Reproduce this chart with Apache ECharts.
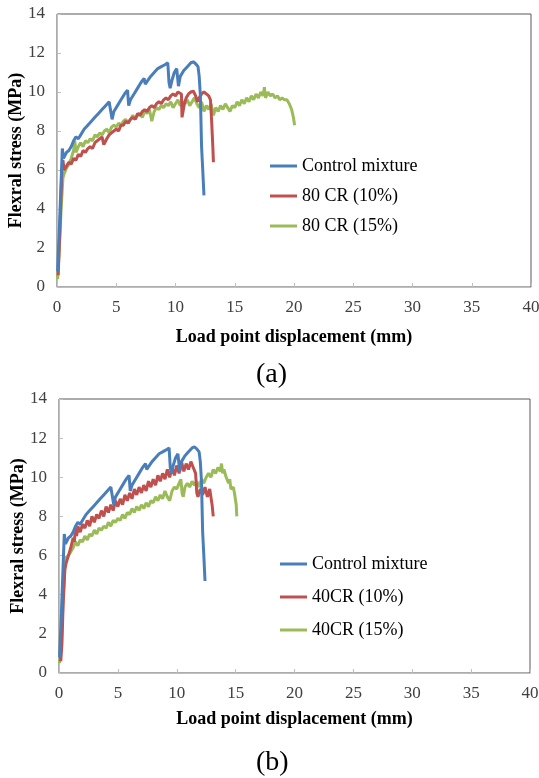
<!DOCTYPE html>
<html>
<head>
<meta charset="utf-8">
<script src="https://cdn.jsdelivr.net/npm/echarts@6.0.0/dist/echarts.min.js"></script>
<style>
  html, body { margin: 0; padding: 0; background: #fff; }
  #chart { width: 539px; height: 778px; }
</style>
</head>
<body>
<div id="chart"></div>
<script>
// displacement (mm), stress (MPa)
const namesA = ['Control mixture', '80 CR (10%)', '80 CR (15%)']
const namesB = ['Control mixture', '40CR (10%)', '40CR (15%)']
const colors = ['#4a7ebb', '#c0504d', '#9bbb59']

const control = [
  [0.05, 0.8], [0.2, 3.0], [0.35, 5.5], [0.45, 7.1], [0.55, 6.6], [0.65, 6.5], [0.8, 6.9], [1.0, 7.0],
  [1.2, 7.2], [1.4, 7.5], [1.6, 7.7], [1.8, 7.6], [2.0, 7.8], [2.3, 8.1], [2.6, 8.3], [2.9, 8.5],
  [3.2, 8.7], [3.5, 8.9], [3.8, 9.1], [4.1, 9.3], [4.4, 9.5], [4.55, 9.6], [4.65, 8.6], [4.8, 9.0],
  [5.1, 9.3], [5.4, 9.6], [5.7, 9.9], [5.95, 10.1], [6.05, 9.3], [6.2, 9.6], [6.5, 9.9], [6.8, 10.2],
  [7.1, 10.5], [7.35, 10.7], [7.45, 10.4], [7.6, 10.5], [7.9, 10.8], [8.2, 11.0], [8.5, 11.2],
  [8.8, 11.3], [9.1, 11.4], [9.35, 11.5], [9.45, 10.5], [9.55, 10.2], [9.7, 10.6], [9.9, 11.0],
  [10.1, 11.2], [10.25, 10.3], [10.4, 10.8], [10.7, 11.1], [11.0, 11.3], [11.3, 11.5], [11.5, 11.55],
  [11.7, 11.45], [11.9, 11.3], [12.0, 10.8], [12.1, 9.8], [12.15, 8.5], [12.2, 7.2], [12.3, 6.0], [12.4, 4.7]
]

const cr80p10 = [
  [0.1, 0.6], [0.25, 3.0], [0.4, 5.8], [0.5, 6.5], [0.6, 6.0], [0.8, 6.2], [1.0, 6.4], [1.2, 6.3],
  [1.4, 6.6], [1.6, 6.5], [1.8, 6.8], [2.0, 6.7], [2.2, 7.0], [2.4, 6.9], [2.6, 7.1], [2.8, 7.2],
  [3.0, 7.1], [3.2, 7.4], [3.4, 7.5], [3.6, 7.6], [3.8, 7.7], [3.95, 7.3], [4.05, 7.2], [4.2, 7.6],
  [4.4, 7.8], [4.6, 7.9], [4.8, 8.0], [5.0, 8.1], [5.2, 8.0], [5.4, 8.3], [5.6, 8.3], [5.8, 8.5],
  [6.0, 8.4], [6.2, 8.6], [6.4, 8.7], [6.6, 8.6], [6.8, 8.9], [7.0, 8.8], [7.2, 9.0], [7.4, 9.1],
  [7.6, 9.0], [7.8, 9.2], [8.0, 9.3], [8.2, 9.2], [8.4, 9.4], [8.6, 9.5], [8.8, 9.4], [9.0, 9.6],
  [9.2, 9.7], [9.4, 9.6], [9.6, 9.8], [9.8, 9.9], [10.0, 9.8], [10.2, 10.0], [10.35, 10.1], [10.5, 9.9],
  [10.55, 8.7], [10.65, 8.6], [10.75, 9.4], [10.9, 9.7], [11.1, 9.9], [11.3, 10.0], [11.5, 10.05],
  [11.7, 9.8], [11.85, 9.5], [12.0, 9.7], [12.2, 9.9], [12.4, 10.0], [12.6, 9.9], [12.8, 9.8],
  [12.95, 9.6], [13.05, 8.5], [13.15, 7.2], [13.2, 6.4]
]

const cr80p15 = [
  [0.05, 0.4], [0.2, 2.0], [0.35, 4.0], [0.5, 5.6], [0.6, 5.8], [0.8, 6.1], [1.0, 6.3], [1.2, 6.6],
  [1.4, 7.0], [1.5, 7.5], [1.6, 6.9], [1.8, 7.2], [2.0, 7.4], [2.2, 7.2], [2.4, 7.5], [2.6, 7.4],
  [2.8, 7.6], [3.0, 7.5], [3.2, 7.8], [3.4, 7.7], [3.6, 7.9], [3.8, 7.8], [4.0, 8.0], [4.2, 8.1],
  [4.4, 7.9], [4.6, 8.2], [4.8, 8.3], [5.0, 8.2], [5.2, 8.4], [5.4, 8.3], [5.6, 8.5], [5.8, 8.6],
  [6.0, 8.4], [6.2, 8.6], [6.4, 8.8], [6.6, 8.6], [6.8, 8.8], [7.0, 8.9], [7.2, 8.7], [7.4, 9.0],
  [7.6, 8.9], [7.8, 9.1], [8.0, 8.5], [8.2, 9.0], [8.4, 9.2], [8.6, 9.1], [8.8, 9.3], [9.0, 9.2],
  [9.2, 9.4], [9.4, 9.3], [9.6, 9.5], [9.8, 9.2], [10.0, 9.4], [10.2, 9.6], [10.4, 9.3], [10.6, 9.5],
  [10.8, 9.4], [11.0, 9.6], [11.2, 9.3], [11.4, 9.5], [11.6, 9.7], [11.8, 9.4], [12.0, 9.2], [12.2, 9.5],
  [12.4, 9.0], [12.6, 9.3], [12.8, 9.1], [13.0, 9.4], [13.2, 8.8], [13.4, 9.2], [13.6, 9.0], [13.8, 9.3],
  [14.0, 9.1], [14.2, 9.4], [14.4, 9.2], [14.6, 9.0], [14.8, 9.3], [15.0, 9.2], [15.2, 9.5], [15.4, 9.3],
  [15.6, 9.6], [15.8, 9.4], [16.0, 9.7], [16.2, 9.5], [16.4, 9.8], [16.6, 9.6], [16.8, 9.9], [17.0, 9.7],
  [17.2, 10.0], [17.4, 9.8], [17.5, 10.25], [17.6, 9.7], [17.8, 10.0], [18.0, 9.8], [18.2, 9.9],
  [18.4, 9.7], [18.6, 9.8], [18.8, 9.6], [19.0, 9.7], [19.2, 9.6], [19.4, 9.6], [19.6, 9.4],
  [19.8, 9.1], [19.95, 8.7], [20.05, 8.3]
]

const cr40p10 = [
  [0.1, 1.2], [0.15, 0.6], [0.25, 1.5], [0.35, 3.5], [0.5, 5.3], [0.6, 5.6], [0.7, 5.5], [0.8, 6.0],
  [0.9, 5.9], [1.0, 6.4], [1.1, 6.3], [1.2, 6.9], [1.3, 6.7], [1.4, 7.4], [1.5, 7.0], [1.6, 7.5],
  [1.8, 7.2], [2.0, 7.6], [2.2, 7.4], [2.4, 7.8], [2.6, 7.5], [2.8, 8.0], [3.0, 7.7], [3.2, 8.1],
  [3.4, 7.9], [3.6, 8.3], [3.8, 8.0], [4.0, 8.5], [4.2, 8.2], [4.4, 8.6], [4.6, 8.3], [4.8, 8.8],
  [5.0, 8.5], [5.2, 8.9], [5.4, 8.6], [5.6, 9.1], [5.8, 8.8], [6.0, 9.2], [6.2, 8.9], [6.4, 9.4],
  [6.6, 9.1], [6.8, 9.5], [7.0, 9.2], [7.2, 9.6], [7.4, 9.3], [7.6, 9.8], [7.8, 9.5], [8.0, 9.9],
  [8.2, 9.6], [8.4, 10.1], [8.6, 9.8], [8.8, 10.2], [9.0, 9.9], [9.2, 10.4], [9.4, 10.0], [9.6, 10.5],
  [9.8, 10.1], [10.0, 10.6], [10.2, 10.2], [10.4, 10.8], [10.6, 10.3], [10.8, 10.7], [11.0, 10.4],
  [11.2, 10.8], [11.4, 10.5], [11.6, 10.2], [11.7, 9.2], [11.8, 9.0], [12.0, 9.4], [12.2, 9.1],
  [12.4, 9.5], [12.6, 9.0], [12.8, 9.4], [12.9, 9.0], [13.0, 8.6], [13.1, 8.0]
]

const cr40p15 = [
  [0.05, 0.5], [0.2, 1.5], [0.35, 3.8], [0.5, 5.5], [0.6, 5.9], [0.8, 6.0], [1.0, 6.2], [1.2, 6.4],
  [1.4, 6.7], [1.6, 6.5], [1.8, 6.8], [2.0, 6.7], [2.2, 7.0], [2.4, 6.8], [2.6, 7.1], [2.8, 7.0],
  [3.0, 7.3], [3.2, 7.1], [3.4, 7.4], [3.6, 7.3], [3.8, 7.5], [4.0, 7.4], [4.2, 7.7], [4.4, 7.5],
  [4.6, 7.8], [4.8, 7.7], [5.0, 7.9], [5.2, 7.8], [5.4, 8.1], [5.6, 7.9], [5.8, 8.2], [6.0, 8.1],
  [6.2, 8.4], [6.4, 8.2], [6.6, 8.5], [6.8, 8.3], [7.0, 8.6], [7.2, 8.4], [7.4, 8.7], [7.6, 8.5],
  [7.8, 8.8], [8.0, 8.7], [8.2, 9.0], [8.4, 8.8], [8.6, 9.1], [8.8, 8.9], [9.0, 9.3], [9.2, 9.0],
  [9.4, 8.8], [9.6, 9.3], [9.8, 9.5], [10.0, 9.4], [10.2, 9.7], [10.35, 9.9], [10.45, 9.2], [10.55, 9.0],
  [10.7, 9.5], [10.9, 9.7], [11.1, 9.5], [11.3, 9.8], [11.5, 9.6], [11.7, 9.8], [11.9, 9.5], [12.1, 9.9],
  [12.3, 9.7], [12.5, 10.0], [12.7, 10.2], [12.9, 10.0], [13.1, 10.4], [13.3, 10.2], [13.5, 10.5],
  [13.7, 10.3], [13.8, 10.7], [13.9, 10.2], [14.0, 10.4], [14.2, 10.0], [14.4, 9.7], [14.5, 9.9],
  [14.6, 9.4], [14.8, 9.5], [14.9, 9.2], [15.0, 9.3], [15.05, 8.6], [15.1, 8.0]
]

const xTitle = 'Load point displacement (mm)'
const yTitle = 'Flexral stress (MPa)'
const captions = ['(a)', '(b)']

const font = 'Liberation Serif'
const chart = echarts.init(document.getElementById('chart'))

const grids = [
  { left: 57, top: 14, width: 474, height: 273 },
  { left: 59, top: 399, width: 471, height: 274 }
]

const mkX = (i, gap) => ({
  type: 'value',
  gridIndex: i,
  min: 0,
  max: 40,
  interval: 5,
  name: xTitle,
  nameLocation: 'middle',
  nameGap: gap,
  nameMoveOverlap: false,
  nameTextStyle: { fontFamily: font, fontWeight: 'bold', fontSize: 18, color: '#000' },
  axisLine: { lineStyle: { color: '#bfbfbf' } },
  axisTick: { inside: true, length: 4, lineStyle: { color: '#bfbfbf' } },
  axisLabel: { fontFamily: font, fontSize: 17, color: '#404040', margin: 12 },
  splitLine: { show: false }
})

const mkY = (i) => ({
  type: 'value',
  gridIndex: i,
  min: 0,
  max: 14,
  interval: 2,
  name: yTitle,
  nameLocation: 'middle',
  nameGap: 32,
  nameMoveOverlap: false,
  nameTextStyle: { fontFamily: font, fontWeight: 'bold', fontSize: 18, color: '#000' },
  axisLine: { show: true, lineStyle: { color: '#bfbfbf' } },
  axisTick: { show: true, inside: true, length: 4, lineStyle: { color: '#bfbfbf' } },
  axisLabel: { fontFamily: font, fontSize: 17, color: '#404040', margin: 12 },
  splitLine: { show: false }
})

const mkSeries = (name, data, color, i) => ({
  name: name,
  type: 'line',
  data: data,
  xAxisIndex: i,
  yAxisIndex: i,
  showSymbol: false,
  symbol: 'none',
  color: color,
  lineStyle: { width: 3, color: color },
  animation: false
})

const legendStyle = { fontFamily: font, fontSize: 18, color: '#000', lineHeight: 20 }

const option = {
  backgroundColor: '#fff',
  animation: false,
  grid: grids.map(g => Object.assign({ show: true, borderColor: '#595959', borderWidth: 1, outerBoundsMode: 'none', containLabel: false }, g)),
  xAxis: [mkX(0, 41), mkX(1, 37)],
  yAxis: [mkY(0), mkY(1)],
  legend: [
    {
      data: namesA,
      orient: 'vertical',
      left: 270,
      top: 156,
      padding: 0,
      itemGap: 10,
      itemWidth: 27,
      itemHeight: 3,
      icon: 'rect',
      textStyle: legendStyle
    },
    {
      data: namesB,
      orient: 'vertical',
      left: 280,
      top: 554,
      padding: 0,
      itemGap: 13,
      itemWidth: 27,
      itemHeight: 3,
      icon: 'rect',
      textStyle: legendStyle
    }
  ],
  graphic: [
    { type: 'text', left: 256, top: 361, style: { text: captions[0], font: '28px "Liberation Serif"', fill: '#000' } },
    { type: 'text', left: 256, top: 749, style: { text: captions[1], font: '28px "Liberation Serif"', fill: '#000' } }
  ],
  series: [
    mkSeries(namesA[2], cr80p15, colors[2], 0),
    mkSeries(namesA[1], cr80p10, colors[1], 0),
    mkSeries(namesA[0], control, colors[0], 0),
    mkSeries(namesB[2], cr40p15, colors[2], 1),
    mkSeries(namesB[1], cr40p10, colors[1], 1),
    mkSeries(namesB[0], control, colors[0], 1)
  ]
}

chart.setOption(option)
</script>
</body>
</html>
